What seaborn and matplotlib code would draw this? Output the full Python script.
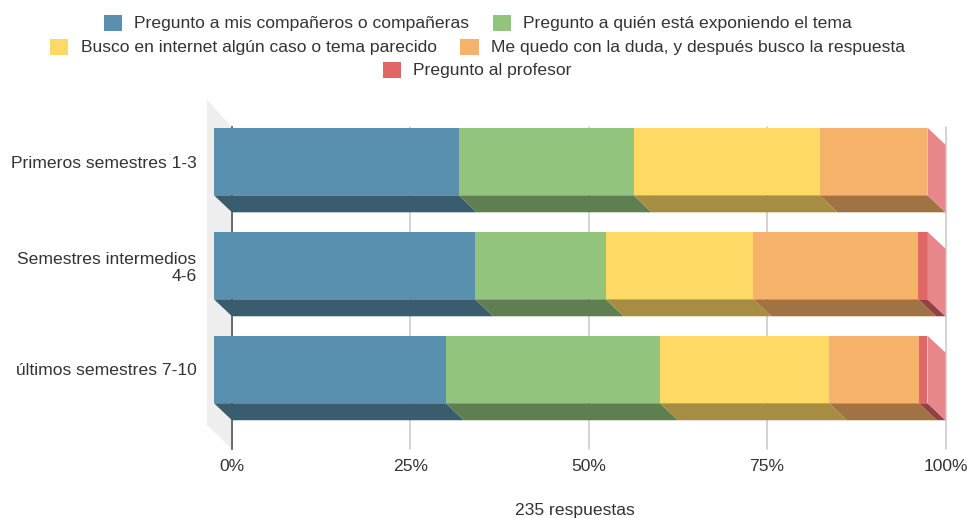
import numpy as np
import pandas as pd
import seaborn as sns
import matplotlib.pyplot as plt
from matplotlib.patches import Polygon

categorias = ["Primeros semestres 1-3", "Semestres intermedios\n4-6", "últimos semestres 7-10"]
respuestas = [
    "Pregunto a mis compañeros o compañeras",
    "Pregunto a quién está exponiendo el tema",
    "Busco en internet algún caso o tema parecido",
    "Me quedo con la duda, y después busco la respuesta",
    "Pregunto al profesor",
]
compañeros = [34.3, 36.6, 32.5]
expositor = [24.5, 18.3, 30.0]
internet = [26.1, 20.7, 23.7]
duda = [15.1, 23.1, 12.6]
profesor = [0.0, 1.3, 1.2]
series = [compañeros, expositor, internet, duda, profesor]

colores = ["#5990af", "#92c47d", "#ffd966", "#f6b26b", "#e16767"]
oscuros = ["#3a5c6f", "#5f7f51", "#a68d42", "#a07345", "#924242"]
lateral = "#e78789"
ticks = [0, 25, 50, 75, 100]

sns.set_style("white")
plt.rcParams["font.family"] = ["Liberation Sans", "DejaVu Sans"]
tam = 12.6
texto = "#333333"

fig = plt.figure(figsize=(9.69, 5.18), dpi=100)
W, H = 969, 518
ax = fig.add_axes([232 / W, 1 - 449 / H, 713.5 / W, 322 / H])

# profundidad del falso 3D, en unidades de los datos
dx = 18 / 7.135
dy = 17 / 104
alto = 0.65

izq = np.zeros(3)
for vals, nombre, color, oscuro in zip(series, respuestas, colores, oscuros):
    vals = np.array(vals)
    sns.barplot(x=vals, y=categorias, left=izq - dx, color=color, saturation=1,
                width=alto, errorbar=None, label=nombre, orient="h", ax=ax,
                linewidth=0, zorder=3, clip_on=False, legend=False)
    for barra in ax.containers[-1]:
        x0, x1 = barra.get_x(), barra.get_x() + barra.get_width()
        yb = barra.get_y() + barra.get_height()
        ax.add_patch(Polygon([(x0, yb), (x1, yb), (x1 + dx, yb + dy), (x0 + dx, yb + dy)],
                             facecolor=oscuro, edgecolor="none", zorder=3, clip_on=False))
    izq = izq + vals

ax.set_xlim(0, 100)
y_arriba, y_abajo = -0.332, 2.765
ax.set_ylim(y_abajo, y_arriba)

# cara lateral derecha
for i in range(len(categorias)):
    sup, inf = i - alto / 2, i + alto / 2
    ax.add_patch(Polygon([(100 - dx, sup), (100, sup + dy), (100, inf + dy), (100 - dx, inf)],
                         facecolor=lateral, edgecolor="none", zorder=3, clip_on=False))

# pared izquierda
ax.add_patch(Polygon([(-3.5, y_arriba - 0.26), (0, y_arriba), (0, y_abajo), (-3.5, y_abajo - 0.23)],
                     facecolor="#eeeeee", edgecolor="none", zorder=1, clip_on=False))

ax.set_xticks(ticks)
ax.set_xticklabels([f"{t}%" for t in ticks])
ax.xaxis.grid(True, color="#cccccc", linewidth=1.2, clip_on=False)
ax.yaxis.grid(False)
ax.set_axisbelow(True)
ax.tick_params(axis="x", length=0, pad=7.5, labelsize=tam, labelcolor=texto)
ax.tick_params(axis="y", length=0, pad=25.5, labelsize=tam, labelcolor=texto)
for etiqueta in ax.get_yticklabels():
    etiqueta.set_linespacing(1.15)
ax.set_xlabel("")
ax.set_ylabel("")
sns.despine(ax=ax, top=True, right=True, bottom=True, left=False)
ax.spines["left"].set_color("#555555")
ax.spines["left"].set_linewidth(1.2)
ax.spines["left"].set_zorder(2)

# leyenda centrada en tres filas
handles, labels = ax.get_legend_handles_labels()
filas = [((0, 1), 477.5, 23), ((2, 3), 477.5, 47), ((4,), 477.5, 70)]
for idx, cx, y in filas:
    leg = fig.legend([handles[i] for i in idx], [labels[i] for i in idx], loc="center",
                     bbox_to_anchor=(cx / W, 1 - y / H), ncol=len(idx), frameon=False,
                     fontsize=tam, handlelength=1.03, handleheight=1.03, handletextpad=0.69,
                     columnspacing=1.37, borderpad=0, labelcolor=texto)

fig.text(575 / W, 1 - 510 / H, "235 respuestas", ha="center", va="center", fontsize=tam, color=texto)

fig.savefig("out.png", dpi=100)
